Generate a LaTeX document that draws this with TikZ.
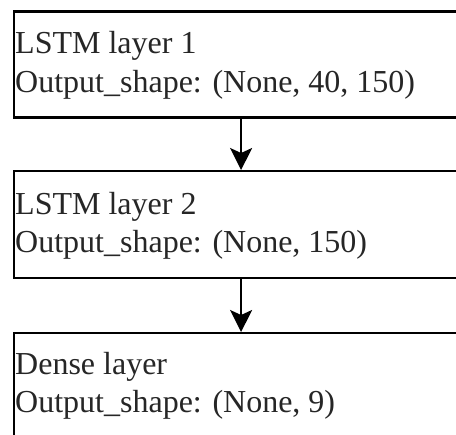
\documentclass[tikz,border=0pt]{standalone}
\usepackage{fontspec}
\setmainfont{Liberation Serif}
\usetikzlibrary{arrows.meta}
\begin{document}
\begin{tikzpicture}[x=1pt,y=-1pt,
  layerbox/.style={draw=black, line width=2.2pt, fill=white, rectangle,
    minimum width=455pt, anchor=north west, inner sep=0pt},
  txt/.style={anchor=base west, inner sep=0pt, text=black!85,
    font=\fontsize{32}{38}\selectfont},
  flow/.style={draw=black, line width=2pt,
    -{Stealth[length=22pt, width=22pt, inset=5pt]}}]
  \useasboundingbox (0,0) rectangle (456,435);
  \fill[white] (0,0) rectangle (456,435);
  \clip (0,0) rectangle (456,435);

  % three stacked layer boxes (right side runs off the page)
  \node[layerbox, minimum height=106pt] (l1) at (12.5,10.5) {};
  \node[layerbox, minimum height=107pt] (l2) at (12.5,170) {};
  \node[layerbox, minimum height=106pt] (l3) at (12.5,332) {};

  % layer descriptions
  \node[txt] (l1a) at (15,53.5) {LSTM layer 1};
  \node[txt] (l1b) at (15,92.5) {Output\_shape: (None, 40, 150)};
  \node[txt] (l2a) at (15,214.5) {LSTM layer 2};
  \node[txt] (l2b) at (15,252.5) {Output\_shape: (None, 150)};
  \node[txt] (l3a) at (15,375) {Dense layer};
  \node[txt] (l3b) at (15,413) {Output\_shape: (None, 9)};

  % data flow between layers
  \draw[flow] (l1.south) -- (l2.north);
  \draw[flow] (l2.south) -- (l3.north);
\end{tikzpicture}
\end{document}
